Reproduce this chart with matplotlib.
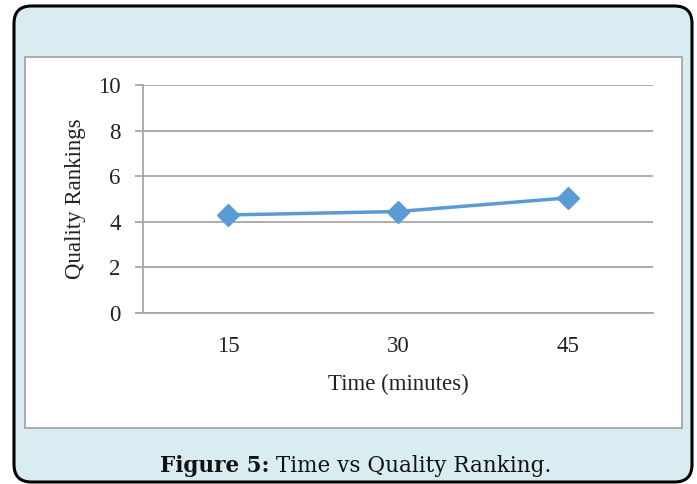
import matplotlib
matplotlib.use("Agg")
import matplotlib.pyplot as plt
from matplotlib.patches import FancyBboxPatch, Rectangle

categories = ["15", "30", "45"]
quality = [4.3, 4.45, 5.05]
yticks = [0, 2, 4, 6, 8, 10]

W, H = 697, 484
fig = plt.figure(figsize=(W / 100, H / 100), dpi=100)
fig.patch.set_facecolor("white")

def fx(px):
    return px / W

def fy(py):
    return 1 - py / H

# outer rounded box
outer = FancyBboxPatch((fx(14), fy(482)), fx(692) - fx(14), fy(6) - fy(482),
                       boxstyle="round,pad=0,rounding_size=0.025",
                       transform=fig.transFigure, facecolor="#d9ecf1",
                       edgecolor="black", linewidth=2.2, zorder=0,
                       mutation_aspect=W / H)
fig.patches.append(outer)

# inner white chart area
inner = Rectangle((fx(25), fy(428)), fx(682) - fx(25), fy(57) - fy(428),
                  transform=fig.transFigure, facecolor="white",
                  edgecolor="#a0a0a0", linewidth=1.2, zorder=1)
fig.patches.append(inner)

ax = fig.add_axes([fx(143), fy(313), fx(653) - fx(143), fy(85) - fy(313)])
ax.set_facecolor("none")
ax.set_zorder(2)

x = list(range(len(categories)))
ax.plot(x, quality, color="#5b9bd5", linewidth=2.5, marker="D",
        markersize=11, markeredgecolor="#5b9bd5", markerfacecolor="#5b9bd5",
        zorder=3, clip_on=False)

ax.set_xlim(-0.5, len(categories) - 0.5)
ax.set_ylim(0, 10)
ax.set_yticks(yticks)
ax.set_xticks(x)
ax.set_xticklabels(categories)
ax.yaxis.grid(True, color="#a6a6a6", linewidth=1.3)
ax.set_axisbelow(True)

for s in ["top", "right"]:
    ax.spines[s].set_visible(False)
ax.spines["left"].set_color("#a6a6a6")
ax.spines["left"].set_linewidth(1.3)
ax.spines["bottom"].set_color("#a6a6a6")
ax.spines["bottom"].set_linewidth(1.3)

serif = "Liberation Serif"
fs = 16.5
ax.tick_params(axis="y", direction="out", length=6, width=1.3, color="#a6a6a6",
               pad=10, labelsize=fs, labelcolor="#222222")
ax.tick_params(axis="x", length=0, pad=16.5, labelsize=fs, labelcolor="#222222")
for lab in ax.get_xticklabels() + ax.get_yticklabels():
    lab.set_fontfamily(serif)

ax.set_xlabel("Time (minutes)", fontfamily=serif, fontsize=fs,
              color="#222222", labelpad=12)
ax.set_ylabel("Quality Rankings", fontfamily=serif, fontsize=fs,
              color="#222222", labelpad=9)

cy = fy(466)
fig.text(fx(269), cy, "Figure 5:", fontfamily="DejaVu Serif", fontweight="bold",
         fontsize=15.5, ha="right", va="center", color="#111111")
fig.text(fx(269), cy, " Time vs Quality Ranking.", fontfamily="DejaVu Serif",
         fontsize=15.5, ha="left", va="center", color="#111111")

fig.savefig("out.png", dpi=100)
